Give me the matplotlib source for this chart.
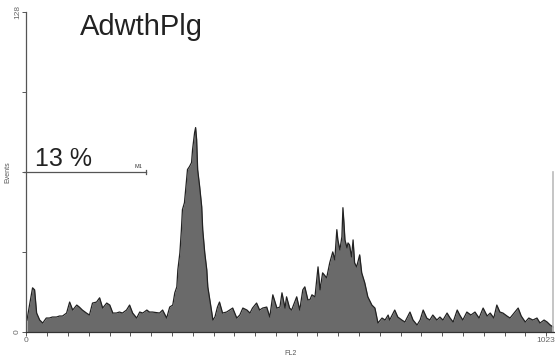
import numpy as np
import matplotlib
matplotlib.use("Agg")
import matplotlib.pyplot as plt

plt.rcParams['font.family'] = ['Liberation Sans', 'DejaVu Sans']

# histogram: FL2 channel -> events
channels = [1, 6, 12, 16, 20, 26, 32, 39, 45, 51, 59, 65, 71, 79, 85, 91, 99, 104,
            110, 118, 124, 130, 138, 144, 150, 158, 164, 170, 177, 183, 189, 197,
            203, 209, 217, 223, 229, 237, 242, 248, 262, 268, 276, 282, 288, 292,
            296, 298, 302, 305, 307, 311, 315, 317, 321, 325, 327, 331, 333, 335,
            337, 341, 345, 347, 351, 355, 357, 361, 365, 367, 371, 376, 380, 386,
            394, 400, 406, 414, 420, 426, 434, 440, 445, 453, 459, 465, 473, 479,
            485, 493, 499, 503, 509, 512, 518, 522, 528, 532, 538, 544, 548, 554,
            558, 562, 568, 574, 578, 583, 591, 597, 603, 607, 611, 613, 617, 621,
            623, 625, 627, 631, 633, 636, 640, 643, 646, 650, 656, 660, 666, 672,
            680, 686, 692, 700, 706, 712, 715, 725, 731, 739, 745, 755, 761, 769,
            775, 781, 788, 794, 800, 808, 814, 820, 828, 834, 840, 848, 853, 859,
            867, 875, 883, 891, 899, 907, 913, 920, 926, 932, 938, 946, 952, 960,
            968, 974, 982, 989, 997, 1005, 1011, 1019, 1025, 1031, 1037]
events = [4.6, 10.6, 17.5, 16.7, 7.4, 4.6, 3.4, 5.4, 5.4, 5.8, 5.8, 6.2, 6.2, 7.4,
          11.8, 8.6, 10.6, 9.8, 8.6, 7.4, 6.6, 11.4, 11.8, 13.5, 9.4, 11.4, 10.6,
          7.4, 7.4, 7.8, 7.4, 8.6, 10.6, 7.4, 5.4, 7.8, 7.4, 8.6, 7.8, 7.8, 7.4,
          8.6, 5.4, 9.8, 10.6, 15.5, 17.9, 24.7, 31.5, 40.8, 48.8, 51.6, 60.8,
          64.9, 66.1, 67.7, 72.9, 79.7, 81.7, 76.9, 64.9, 58.0, 50.0, 40.8, 31.5,
          24.7, 17.9, 12.7, 7.4, 4.6, 5.8, 9.8, 11.8, 7.4, 7.8, 8.6, 9.4, 5.4,
          6.6, 9.4, 8.6, 7.4, 9.4, 11.4, 8.6, 9.4, 9.8, 5.8, 14.7, 9.4, 9.8, 15.5,
          9.4, 13.9, 9.4, 8.6, 11.8, 13.9, 8.6, 16.7, 17.9, 12.7, 12.7, 14.7,
          13.9, 25.9, 16.7, 23.5, 21.5, 27.5, 31.9, 28.7, 40.8, 36.7, 32.7, 38.0,
          49.6, 43.6, 36.7, 33.5, 35.5, 34.7, 29.9, 36.7, 27.5, 25.9, 30.7, 23.5,
          19.5, 13.9, 10.6, 9.4, 3.4, 5.4, 4.6, 6.6, 4.6, 8.6, 5.8, 4.6, 3.8, 7.8,
          4.6, 2.6, 4.6, 8.6, 5.4, 4.6, 6.6, 4.6, 5.8, 4.6, 7.4, 5.4, 3.8, 8.6,
          6.6, 4.6, 7.8, 6.6, 7.8, 5.4, 9.4, 6.2, 7.4, 5.4, 10.6, 7.8, 7.4, 6.2,
          5.4, 7.4, 9.4, 6.2, 3.8, 5.4, 4.6, 5.4, 3.4, 4.6, 3.8, 2.6, 1.8]

marker_x = [0, 236]
marker_y = 64
marker_pct = '13 %'

fig = plt.figure(figsize=(5.55, 3.58), dpi=100)
ax = fig.add_axes([0.0477, 0.074, 0.950, 0.8925])

ax.fill_between(channels, events, 0, color='#6a6a6a', lw=0)
ax.plot(channels, events, color='#222222', lw=0.9)

ax.set_xlim(0, 1038)
ax.set_ylim(0, 128)

for s in ['top', 'right']:
    ax.spines[s].set_visible(False)
ax.spines['left'].set_color('#555555')
ax.spines['bottom'].set_color('#333333')
ax.spines['left'].set_linewidth(0.9)
ax.spines['bottom'].set_linewidth(0.9)

ax.set_xticks(np.linspace(0, 1023, 26))
ax.set_xticklabels(['0'] + [''] * 24 + ['1023'], fontsize=6, color='#666666')
ax.set_yticks([0, 32, 64, 96, 128])
ax.set_yticklabels(['0', '', '', '', '128'], fontsize=6, color='#666666',
                   rotation=90, va='center')
ax.tick_params(axis='both', length=3, width=0.7, color='#555555', pad=1)

ax.set_ylabel('Events', fontsize=5, color='#555555', labelpad=2)
ax.set_xlabel('FL2', fontsize=5, color='#555555', labelpad=4)

# M1 marker
ax.plot([-4, marker_x[1]], [marker_y, marker_y], color='#555555', lw=0.9,
        clip_on=False)
ax.plot([marker_x[1]] * 2, [marker_y - 0.8, marker_y + 0.8], color='#555555', lw=0.9)
ax.text(marker_x[1] - 16, marker_y + 1.5, 'M1', fontsize=4, color='#333333', ha='center')
ax.text(17, marker_y + 2.2, marker_pct, fontsize=18, color='#222222')

# right-hand marker edge
ax.plot([1037, 1037], [0, 64], color='#bbbbbb', lw=1.2)

fig.text(0.144, 0.902, 'AdwthPlg', fontsize=21, color='#222222', va='baseline')

fig.savefig('out.png', dpi=100)
